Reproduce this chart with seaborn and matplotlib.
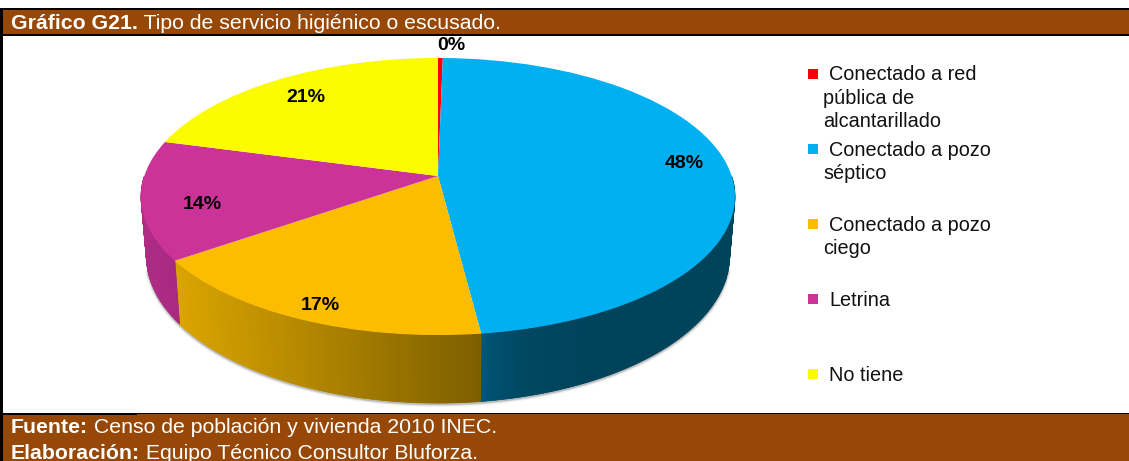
import numpy as np
import matplotlib
matplotlib.use("Agg")
import matplotlib.pyplot as plt
from matplotlib.patches import Rectangle
from matplotlib.transforms import Transform
from matplotlib.colors import to_rgb
import seaborn as sns

# ---- data ----
categories = ["Conectado a red\npública de\nalcantarillado",
              "Conectado a pozo\nséptico",
              "Conectado a pozo\nciego",
              "Letrina",
              "No tiene"]
values = [0.3, 47.7, 17.3, 13.9, 20.8]
title_bold = "Gráfico G21."
title_rest = " Tipo de servicio higiénico o escusado."
source_lines = [("Fuente:", " Censo de población y vivienda 2010 INEC."),
                ("Elaboración:", " Equipo Técnico Consultor Bluforza.")]

# ---- style ----
sns.set_theme(style="white")
plt.rcParams["font.family"] = ["Liberation Sans", "DejaVu Sans"]
palette = sns.color_palette(["#FF0000", "#00B0F0", "#FCBC00", "#CC3399", "#FCFC00"])
wall_left = ["#A00000", "#005A7C", "#DCA600", "#AE2C84", "#DADA00"]
wall_right = ["#A00000", "#00445C", "#7E5F00", "#A82A80", "#DADA00"]
BROWN = "#984806"
W, H = 1129, 461

fig = plt.figure(figsize=(W / 100, H / 100), dpi=100, facecolor="white")
ax = fig.add_axes([0, 0, 1, 1])

# ---- perspective view of the unit pie, in pixel axes ----
CX, CY, A, B, K, DEPTH, SHRINK = 438.0, 176.0, 293.7, 135.5, 0.148, 58.0, 0.982


def project(xy, drop=0.0, scale=1.0):
    xy = np.asarray(xy, dtype=float)
    d = 1 + K * xy[..., 1]
    return np.stack([CX + scale * A * xy[..., 0] / d,
                     CY - (B * xy[..., 1] - drop) / d], axis=-1)


class Perspective(Transform):
    input_dims = output_dims = 2
    has_inverse = False

    def transform_non_affine(self, values):
        return project(values)


wedges, _ = ax.pie(values, colors=palette, startangle=90, counterclock=False,
                   radius=1, wedgeprops=dict(linewidth=0))
ax.set_aspect("auto")
ax.set_xlim(0, W)
ax.set_ylim(H, 0)
ax.set_axis_off()
view = Perspective() + ax.transData
for w in wedges:
    w.set_transform(view)
    w.set_zorder(3)


def circle(t):
    return np.stack([np.sin(t), np.cos(t)], axis=-1)


# ---- side wall, shaded along the front arc ----
edges = np.radians(np.concatenate([[0], np.cumsum(values)]) * 3.6)
for i in range(len(values)):
    lo, hi = max(edges[i], np.pi / 2), min(edges[i + 1], 3 * np.pi / 2)
    if hi <= lo:
        continue
    ts = np.linspace(lo, hi, 90)
    c_right, c_left = np.array(to_rgb(wall_right[i])), np.array(to_rgb(wall_left[i]))
    top, bot = project(circle(ts)), project(circle(ts), DEPTH, SHRINK)
    outline = np.vstack([top, bot[::-1]])
    ax.fill(outline[:, 0], outline[:, 1], color=(c_left + c_right) / 2, lw=0, zorder=2)
    xs = bot[:, 0]
    span = max(xs.max() - xs.min(), 1)
    for j in range(len(ts) - 1):
        f = (xs[j] - xs.min()) / span
        if i == 1:
            g = (1 - f) ** 8  # blue darkens quickly away from the seam
            col = c_right * (1 - g) + c_left * g
        else:
            col = c_left * (1 - f) + c_right * f
        quad = np.vstack([top[j:j + 2], bot[j:j + 2][::-1]])
        ax.fill(quad[:, 0], quad[:, 1], color=col, lw=0.5, zorder=2)

# soft shadow under and beside the wall
ts = np.linspace(np.pi * 0.58, np.pi * 1.42, 240)
shadow = project(circle(ts), DEPTH + 1, SHRINK)
for lw, alpha in [(4, 0.06), (2.4, 0.12), (1.2, 0.22)]:
    ax.plot(shadow[:, 0], shadow[:, 1], color="#404040", lw=lw, alpha=alpha,
            zorder=1, solid_capstyle="round")

# ---- percentage labels ----
label_pos = [(451, 46), (684, 163), (320, 305), (202, 204), (306, 97)]
for v, (x, y) in zip(values, label_pos):
    ax.text(x, y, f"{round(v)}%", ha="center", va="center", fontsize=14,
            fontweight="bold", color="black", zorder=5)

# ---- legend ----
LEG_Y = [74, 149, 224, 299, 374]
for lab, col, y in zip(categories, palette, LEG_Y):
    ax.add_patch(Rectangle((808, y - 5), 10, 10, fc=col, ec="none", zorder=5))
    lines = lab.split("\n")
    ax.text(829, y - 1, lines[0], ha="left", va="center_baseline", fontsize=14.3, color="#111111")
    for k, ln in enumerate(lines[1:], start=1):
        ax.text(823, y - 1 + 23 * k, ln, ha="left", va="center_baseline", fontsize=14.3, color="#111111")

# ---- frame, header and footer bands ----
ax.add_patch(Rectangle((0, 10), W, 25, fc=BROWN, ec="none", zorder=6))
ax.add_patch(Rectangle((0, 414), W, H - 414, fc=BROWN, ec="none", zorder=6))
for rect in [(0, 8, W, 2), (0, 34, W, 1.6), (0, 34, 137, 2), (0, 413, W, 1.2),
             (0, 412.5, 137, 2), (0, 8, 3, 406), (0, 414, 3, H - 414)]:
    ax.add_patch(Rectangle(rect[:2], rect[2], rect[3], fc="black", ec="none", zorder=7))

renderer = fig.canvas.get_renderer()


def two_part(x, y, bold, rest):
    t = ax.text(x, y, bold, ha="left", va="baseline", fontsize=15.3, fontweight="bold",
                color="#FFFFFF", zorder=8)
    bb = t.get_window_extent(renderer)
    x1 = ax.transData.inverted().transform((bb.x1, bb.y0))[0]
    ax.text(x1, y, rest, ha="left", va="baseline", fontsize=15.3, color="#FFFFFF", zorder=8)


two_part(11, 29, title_bold, title_rest)
for (b, r), y in zip(source_lines, [433, 459]):
    two_part(11, y, b, r)

fig.savefig("out.png", dpi=100, facecolor="white")
